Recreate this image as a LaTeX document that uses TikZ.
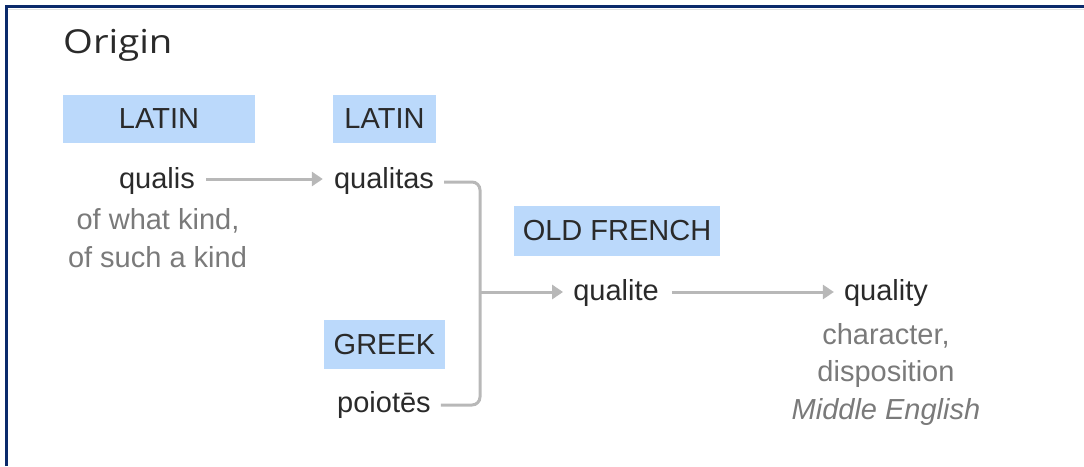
\documentclass[tikz,border=0pt]{standalone}
\usepackage{fontspec}
\setmainfont{Liberation Sans}
\newfontfamily\originfont{Open Sans}
\usetikzlibrary{arrows.meta}
\definecolor{navy}{HTML}{0B2A6B}
\definecolor{shadowgray}{HTML}{E2E2E2}
\definecolor{boxblue}{HTML}{BBD9FB}
\definecolor{conncol}{HTML}{B8B8B8}
\definecolor{wordcol}{HTML}{2A2A2A}
\definecolor{glosscol}{HTML}{7A7A7A}
\tikzset{
  frame/.style={draw=navy, line width=2.6pt},
  langbox/.style={fill=boxblue, text=wordcol, font=\fontsize{29}{34}\selectfont, inner sep=0pt},
  word/.style={text=wordcol, font=\fontsize{29}{34}\selectfont, inner sep=0pt, anchor=base},
  gloss/.style={text=glosscol, font=\fontsize{29}{34}\selectfont, inner sep=0pt, anchor=base},
  conn/.style={draw=conncol, line width=3pt},
  arr/.style={conn, -{Triangle[length=11pt,width=14pt]}},
}
\begin{document}
\begin{tikzpicture}[x=1pt,y=-1pt]
\useasboundingbox (0,0) rectangle (1084,466);
% frame
\draw[shadowgray, line width=1.6pt] (8,9.5) -- (1084,9.5);
\draw[frame] (6.7,466) -- (6.7,6.7) -- (1084,6.7);
% title
\node[anchor=base west, inner sep=0pt, text=wordcol, font=\originfont\fontsize{33}{38}\selectfont] (title) at (63,53) {\scalebox{1.16}[1]{Origin}};
% language boxes
\node[langbox, minimum width=192pt, minimum height=48pt] (latin1) at (159,119) {LATIN};
\node[langbox, minimum width=103pt, minimum height=48pt] (latin2) at (384.5,119) {LATIN};
\node[langbox, minimum width=206pt, minimum height=50pt] (ofrench) at (617,231) {OLD FRENCH};
\node[langbox, minimum width=121pt, minimum height=49pt] (greek) at (384.5,344.5) {GREEK};
% words
\node[word] (qualis) at (157,188) {qualis};
\node[word] (qualitas) at (384,188) {qualitas};
\node[word] (poiotes) at (384,412) {poiotēs};
\node[word] (qualite) at (616,300) {qualite};
\node[word] (quality) at (886,300) {quality};
% glosses
\node[gloss] (g1) at (158,229) {of what kind,};
\node[gloss] (g2) at (157.5,267) {of such a kind};
\node[gloss] (g3) at (886,344) {character,};
\node[gloss] (g4) at (886,381) {disposition};
\node[gloss, font=\itshape\fontsize{29}{34}\selectfont] (g5) at (886,419) {Middle English};
% connectors
\coordinate (junction) at (480,292);
\draw[arr] ([shift={(11,-9)}]qualis.base east) -- ([shift={(-11,-9)}]qualitas.base west);
\draw[conn, rounded corners=8pt] ([shift={(10,-6)}]qualitas.base east) -| (junction) |- ([shift={(10,-7)}]poiotes.base east);
\draw[arr] (junction) -- ([shift={(-10,-8)}]qualite.base west);
\draw[arr] ([shift={(13,-8)}]qualite.base east) -- ([shift={(-10,-8)}]quality.base west);
\end{tikzpicture}
\end{document}
